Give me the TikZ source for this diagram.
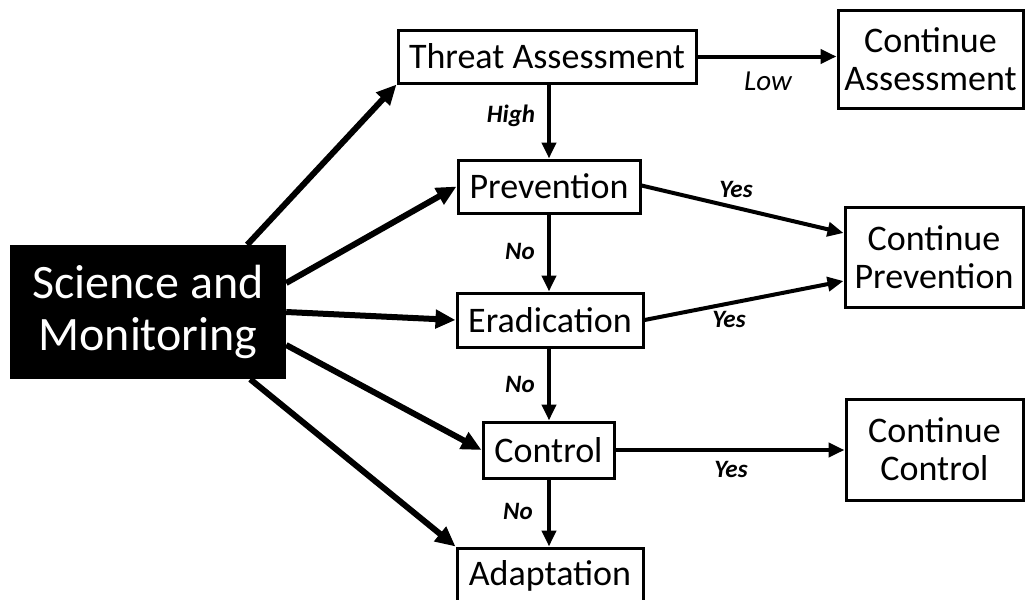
\documentclass[tikz,border=0pt]{standalone}
\usepackage{fontspec}
\setmainfont{Carlito}
\usetikzlibrary{arrows.meta}
\tikzset{
  box/.style={draw=black, line width=3pt, fill=white, inner sep=0pt, align=center,
    font=\fontsize{36}{38}\selectfont},
  scibox/.style={fill=black, text=white, inner sep=0pt, align=center,
    font=\fontsize{48}{52}\selectfont},
  arr/.style={line width=4pt, -{Triangle[length=16pt,width=14pt]}},
  bigarr/.style={line width=6pt, -{Triangle[length=20pt,width=18pt]}},
  lbl/.style={font=\fontsize{25}{27}\selectfont\bfseries\itshape, inner sep=0pt},
  lbllight/.style={font=\fontsize{29}{31}\selectfont\itshape, inner sep=0pt}
}
\begin{document}
\begin{tikzpicture}[x=1pt,y=-1pt]
\useasboundingbox (0,0) rectangle (1026,600);
% nodes
\node[scibox, minimum width=276pt, minimum height=134pt] (sci) at (148,312) {Science and\\Monitoring};
\node[box, minimum width=298pt, minimum height=53pt] (threat) at (547,56.5) {Threat Assessment};
\node[box, minimum width=185pt, minimum height=98pt] (contA) at (930.5,59) {Continue\\Assessment};
\node[box, minimum width=182pt, minimum height=53pt] (prev) at (549,186.5) {Prevention};
\node[box, minimum width=178pt, minimum height=100pt] (contP) at (934,257) {Continue\\Prevention};
\node[box, minimum width=186pt, minimum height=54pt] (erad) at (550,320) {Eradication};
\node[box, minimum width=131pt, minimum height=56pt] (ctrl) at (548.5,450) {Control};
\node[box, minimum width=177pt, minimum height=101pt] (contC) at (934.5,449.5) {Continue\\Control};
\node[box, minimum width=186pt, minimum height=56pt] (adapt) at (550,576) {Adaptation};
% connectors from science
\draw[bigarr] ([xshift=-39pt]sci.north east) -- (threat.south west);
\draw[bigarr] ([yshift=29pt]sci.east) -- (prev.west);
\draw[bigarr] (sci.east) -- (erad.west);
\draw[bigarr] ([yshift=-33pt]sci.east) -- (ctrl.west);
\draw[bigarr] ([xshift=-36pt]sci.south east) -- (adapt.north west);
% vertical chain
\draw[arr] (threat.south -| prev.north) -- (prev.north);
\draw[arr] (prev.south) -- (prev.south |- erad.north);
\draw[arr] (erad.south -| prev.south) -- (prev.south |- ctrl.north);
\draw[arr] (ctrl.south -| prev.south) -- (prev.south |- adapt.north);
% to the right
\draw[arr] (threat.east) -- (contA.west |- threat.east);
\draw[arr] ([yshift=1pt]prev.east) -- ([yshift=24pt]contP.west);
\draw[arr] (erad.east) -- ([yshift=-24pt]contP.west);
\draw[arr] (ctrl.east) -- (contC.west |- ctrl.east);
% labels
\node[lbllight] (lLow) at (768,81) {Low};
\node[lbl] (lHigh) at (511,116) {High};
\node[lbl] (lNo1) at (520,251) {No};
\node[lbl] (lNo2) at (520,384) {No};
\node[lbl] (lNo3) at (518,511) {No};
\node[lbl] (lYes1) at (736,189) {Yes};
\node[lbl] (lYes2) at (729,319) {Yes};
\node[lbl] (lYes3) at (731,469) {Yes};
\end{tikzpicture}
\end{document}
